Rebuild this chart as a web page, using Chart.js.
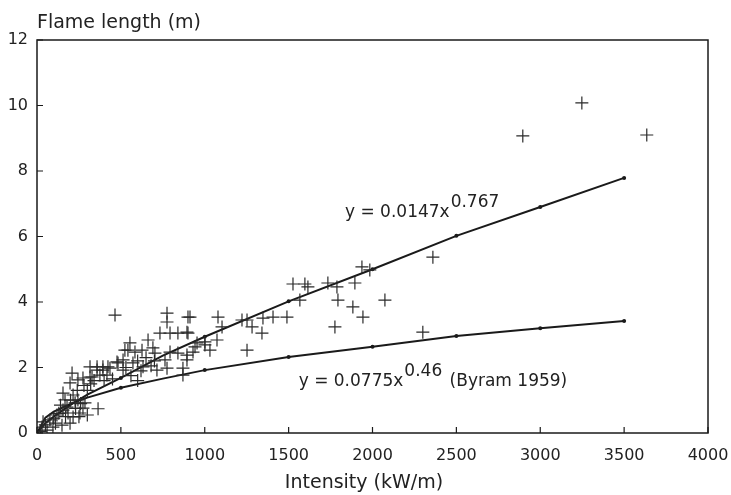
<!DOCTYPE html>
<html>
<head>
<meta charset="utf-8">
<script src="https://cdn.jsdelivr.net/npm/chart.js@4/dist/chart.umd.min.js"></script>
<style>
html,body{margin:0;padding:0;background:#fff;}
#wrap{width:731px;height:495px;position:relative;}
</style>
</head>
<body>
<div id="wrap"><canvas id="c" width="731" height="495"></canvas></div>
<script>
// ---- Data ----
const yAxisTitle = 'Flame length (m)';
const xAxisTitle = 'Intensity (kW/m)';

// observed points (Intensity kW/m, Flame length m)
const obsIntensity = [
  3248, 2896, 3635, 2360, 2300, 2074,
  1937, 1984, 1526, 1597, 1615, 1734, 1788, 1895, 1567, 1794, 1883, 1943, 1776, 1407, 1490, 1347, 1222, 1252, 1282, 1341, 1252,
  912, 1079, 1103, 894, 1073, 1001, 954, 1031, 930, 894,
  465, 775, 775, 900, 733, 793, 840, 900, 554, 662, 524, 584, 626, 691, 703, 793, 840, 942, 1001, 763, 894, 513, 572, 632, 715, 775, 870, 435, 477, 513, 358, 393, 316, 417, 870,
  542, 209, 316, 358, 393, 423, 483, 197, 244, 274, 328, 375, 155, 215, 244, 167, 364, 286, 274, 227, 155, 185, 119, 77, 36, 95, 149, 197, 215, 256, 60, 30, 179,
  100, 130, 170, 230, 260, 300, 320, 340, 280, 240, 200, 140, 110, 50, 20, 400, 450, 530, 600, 650, 700, 620, 680, 560, 600, 300, 250
];
const obsFlameLength = [
  10.08, 9.07, 9.10, 5.37, 3.08, 4.06,
  5.07, 4.98, 4.55, 4.55, 4.46, 4.58, 4.46, 4.58, 4.06, 4.06, 3.85, 3.54, 3.24, 3.54, 3.54, 3.51, 3.45, 3.45, 3.24, 3.05, 2.53,
  3.54, 3.54, 3.24, 3.08, 2.84, 2.78, 2.75, 2.53, 2.47, 2.38,
  3.60, 3.66, 3.39, 3.54, 3.05, 3.05, 3.05, 3.05, 2.75, 2.84, 2.53, 2.47, 2.53, 2.60, 2.44, 2.47, 2.44, 2.63, 2.69, 2.23, 2.23, 2.23, 2.14, 2.02, 1.92, 1.98, 1.98, 1.98, 2.17, 1.92, 1.92, 1.92, 1.71, 1.77, 1.77,
  2.53, 1.83, 2.02, 2.02, 2.02, 2.02, 2.14, 1.53, 1.62, 1.68, 1.71, 1.77, 1.22, 1.16, 1.01, 1.01, 0.74, 0.92, 0.76, 0.92, 0.70, 0.61, 0.55, 0.40, 0.34, 0.18, 0.24, 0.30, 0.49, 0.61, 0.09, 0.18, 0.79,
  0.45, 0.60, 0.50, 0.75, 0.90, 1.30, 1.50, 1.60, 1.45, 1.30, 1.00, 0.85, 0.30, 0.25, 0.05, 1.60, 1.65, 2.00, 2.20, 2.30, 2.20, 1.90, 2.05, 1.75, 1.60, 0.55, 0.50
];

// fitted curve y = 0.0147x^0.767
const fitIntensity = [0, 50, 100, 200, 300, 500, 750, 1000, 1500, 2000, 2500, 3000, 3500];
const fitFlameLength = [0, 0.30, 0.50, 0.86, 1.17, 1.68, 2.36, 2.94, 4.02, 5.00, 6.02, 6.90, 7.79];

// Byram (1959) curve y = 0.0775x^0.46
const byramIntensity = [0, 50, 100, 200, 300, 500, 750, 1000, 1500, 2000, 2500, 3000, 3500];
const byramFlameLength = [0, 0.47, 0.65, 0.89, 1.08, 1.38, 1.66, 1.92, 2.32, 2.63, 2.96, 3.20, 3.42];

const xTickValues = [0, 500, 1000, 1500, 2000, 2500, 3000, 3500, 4000];
const yTickValues = [0, 2, 4, 6, 8, 10, 12];

const fitLabel = {main: 'y = 0.0147x', sup: '0.767', tail: '', at: [1836, 6.6]};
const byramLabel = {main: 'y = 0.0775x', sup: '0.46', tail: ' (Byram 1959)', at: [1560, 1.45]};

// ---- Build chart ----
const toPts = (xs, ys) => xs.map((x, i) => ({x: x, y: ys[i]}));
const FONT = '"DejaVu Sans", "Liberation Sans", sans-serif';
const INK = '#1a1a1a';

const framePlugin = {
  id: 'frame',
  afterDraw(chart) {
    const ctx = chart.ctx, a = chart.chartArea;
    const xs = chart.scales.x, ys = chart.scales.y;
    ctx.save();
    ctx.strokeStyle = INK;
    ctx.lineWidth = 1.5;
    ctx.strokeRect(a.left, a.top, a.right - a.left, a.bottom - a.top);
    ctx.lineWidth = 1.2;
    ctx.beginPath();
    xTickValues.forEach(v => {
      const p = xs.getPixelForValue(v);
      ctx.moveTo(p, a.bottom); ctx.lineTo(p, a.bottom - 6);
    });
    yTickValues.forEach(v => {
      const p = ys.getPixelForValue(v);
      ctx.moveTo(a.left, p); ctx.lineTo(a.left + 6, p);
    });
    ctx.stroke();

    ctx.fillStyle = '#222';
    ctx.textBaseline = 'alphabetic';
    ctx.font = '19px ' + FONT;
    ctx.textAlign = 'left';
    ctx.fillText(yAxisTitle, a.left, 28);
    ctx.textAlign = 'center';
    ctx.fillText(xAxisTitle, 364, 488);

    [fitLabel, byramLabel].forEach(L => {
      const px = xs.getPixelForValue(L.at[0]);
      const py = ys.getPixelForValue(L.at[1]);
      ctx.textAlign = 'left';
      ctx.font = '17px ' + FONT;
      ctx.fillText(L.main, px, py);
      let w = ctx.measureText(L.main).width;
      ctx.fillText(L.sup, px + w + 1, py - 10);
      w += ctx.measureText(L.sup).width;
      if (L.tail) ctx.fillText(L.tail, px + w + 3, py);
    });
    ctx.restore();
  }
};

const dotRadius = ctx => (ctx.raw && ctx.raw.x > 0 && ctx.raw.x % 500 === 0) ? 2 : 0;

new Chart(document.getElementById('c'), {
  type: 'scatter',
  data: {
    datasets: [
      {
        label: 'Observed',
        data: toPts(obsIntensity, obsFlameLength),
        pointStyle: 'cross',
        pointRadius: 6.5,
        borderColor: '#2a2a2a',
        borderWidth: 1.2,
        backgroundColor: '#2a2a2a'
      },
      {
        label: 'Fit',
        data: toPts(fitIntensity, fitFlameLength),
        showLine: true,
        borderColor: INK,
        borderWidth: 2,
        pointRadius: dotRadius,
        backgroundColor: INK,
        pointBorderWidth: 0,
        tension: 0
      },
      {
        label: 'Byram 1959',
        data: toPts(byramIntensity, byramFlameLength),
        showLine: true,
        borderColor: INK,
        borderWidth: 2,
        pointRadius: dotRadius,
        backgroundColor: INK,
        pointBorderWidth: 0,
        tension: 0
      }
    ]
  },
  options: {
    responsive: false,
    animation: false,
    events: [],
    layout: {padding: {top: 40, right: 23, left: 0, bottom: 0}},
    plugins: {legend: {display: false}, tooltip: {enabled: false}},
    scales: {
      x: {
        type: 'linear', min: 0, max: 4000,
        afterBuildTicks: s => { s.ticks = xTickValues.map(v => ({value: v})); },
        afterFit: s => { s.height = 62; s.paddingRight = 0; s.paddingLeft = 0; },
        grid: {display: false, drawTicks: false},
        border: {display: false},
        ticks: {padding: 13, color: '#222', font: {family: FONT, size: 16}, maxRotation: 0, autoSkip: false,
                callback: v => String(v)}
      },
      y: {
        type: 'linear', min: 0, max: 12,
        afterBuildTicks: s => { s.ticks = yTickValues.map(v => ({value: v})); },
        afterFit: s => { s.width = 37; },
        grid: {display: false, drawTicks: false},
        border: {display: false},
        ticks: {padding: 9, color: '#222', font: {family: FONT, size: 16}, callback: v => String(v)}
      }
    }
  },
  plugins: [framePlugin]
});
</script>
</body>
</html>
